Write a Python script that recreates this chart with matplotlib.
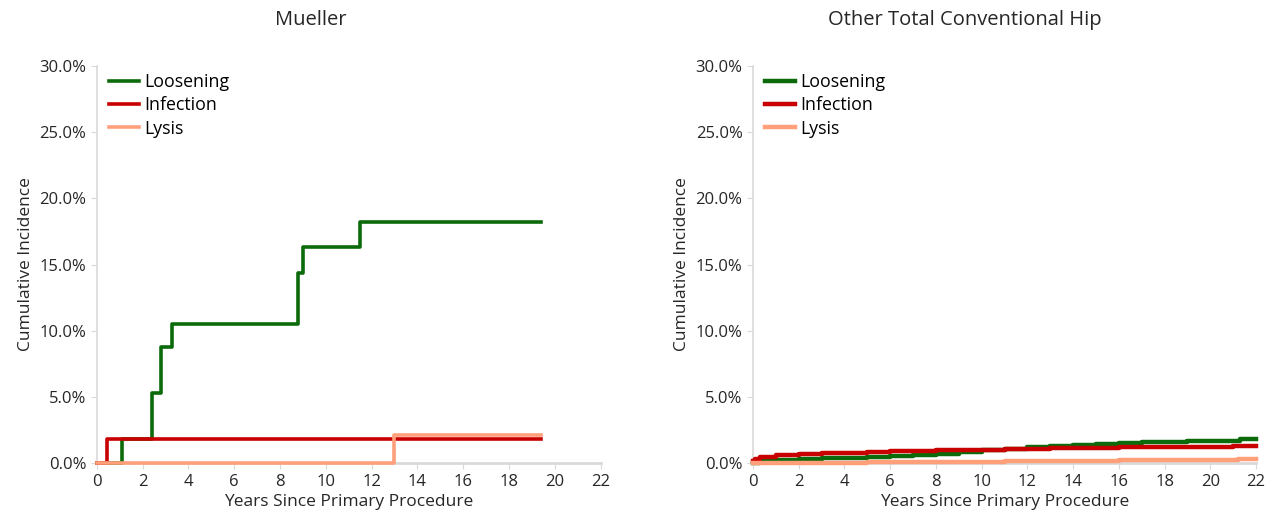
import matplotlib.pyplot as plt
from matplotlib.ticker import FuncFormatter, MultipleLocator

plt.rcParams["font.family"] = ["Open Sans", "DejaVu Sans"]

# Mueller: step change points (years, cumulative incidence %)
MUELLER_LOOSEN_X = [0.0, 1.1, 2.4, 2.4, 2.8, 3.3, 8.8, 8.8, 9.0, 11.5, 19.4]
MUELLER_LOOSEN_Y = [0.0, 1.8, 3.6, 5.3, 8.8, 10.5, 12.4, 14.4, 16.3, 18.2, 18.2]
MUELLER_INFECT_X = [0.0, 0.45, 19.4]
MUELLER_INFECT_Y = [0.0, 1.8, 1.8]
MUELLER_LYSIS_X = [0.0, 13.0, 19.4]
MUELLER_LYSIS_Y = [0.0, 2.1, 2.1]

# Other total conventional hip
OTHER_LOOSEN_X = [0.0, 0.3, 1, 2, 3, 4, 5, 6, 7, 8, 9, 10, 11, 12, 13, 14, 15, 16, 17, 18, 19, 20, 21.3, 22]
OTHER_LOOSEN_Y = [0.05, 0.15, 0.22, 0.3, 0.37, 0.43, 0.5, 0.57, 0.63, 0.7, 0.85, 1.0, 1.1, 1.2, 1.3, 1.38, 1.45, 1.52, 1.58, 1.63, 1.67, 1.7, 1.85, 1.85]
OTHER_INFECT_X = [0.0, 0.1, 0.3, 1, 2, 3, 4, 5, 6, 7, 8, 9, 10, 11, 12, 13, 14, 15, 16, 17, 18, 19, 20, 21, 22]
OTHER_INFECT_Y = [0.2, 0.35, 0.45, 0.6, 0.68, 0.75, 0.8, 0.85, 0.9, 0.93, 0.97, 1.0, 1.03, 1.07, 1.1, 1.13, 1.15, 1.17, 1.2, 1.22, 1.23, 1.25, 1.26, 1.27, 1.27]
OTHER_LYSIS_X = [0.0, 5.0, 11.0, 16.0, 21.2, 22]
OTHER_LYSIS_Y = [0.03, 0.06, 0.15, 0.25, 0.35, 0.35]

GREEN = "#0b6b0b"
RED = "#c80000"
SALMON = "#ffa07a"
SPINE = "#d9d9d9"
TEXT = "#262626"


def pct(v, _):
    return f"{v:.1f}%"


def style_axis(ax):
    ax.set_xlim(0, 22)
    ax.set_ylim(0, 30)
    ax.xaxis.set_major_locator(MultipleLocator(2))
    ax.yaxis.set_major_locator(MultipleLocator(5))
    ax.yaxis.set_major_formatter(FuncFormatter(pct))
    for side in ["top", "right"]:
        ax.spines[side].set_visible(False)
    ax.spines["left"].set_color(SPINE)
    ax.spines["bottom"].set_color(SPINE)
    ax.spines["bottom"].set_linewidth(2.0)
    ax.spines["left"].set_linewidth(1.2)
    ax.tick_params(colors=SPINE, labelcolor=TEXT, labelsize=12, length=4)
    ax.set_xlabel("Years Since Primary Procedure", fontsize=12.5, color=TEXT, labelpad=3)
    ax.set_ylabel("Cumulative Incidence", fontsize=12.5, color=TEXT)
    ax.legend(loc="upper left", frameon=False, fontsize=12.8, handlelength=1.7,
              handletextpad=0.3, labelspacing=0.3, borderaxespad=0.0,
              bbox_to_anchor=(0.01, 1.0))


def draw(ax, xs, ys, color, label, lw):
    ax.plot(xs, ys, drawstyle="steps-post", color=color, lw=lw, label=label,
            zorder=3, clip_on=False)


fig = plt.figure(figsize=(12.75, 5.27), dpi=100)
ax1 = fig.add_axes([0.076, 0.121, 0.395, 0.754])
ax2 = fig.add_axes([0.5906, 0.121, 0.3945, 0.754])

draw(ax1, MUELLER_LOOSEN_X, MUELLER_LOOSEN_Y, GREEN, "Loosening", 2.6)
draw(ax1, MUELLER_INFECT_X, MUELLER_INFECT_Y, RED, "Infection", 2.6)
draw(ax1, MUELLER_LYSIS_X, MUELLER_LYSIS_Y, SALMON, "Lysis", 2.6)
style_axis(ax1)

draw(ax2, OTHER_LOOSEN_X, OTHER_LOOSEN_Y, GREEN, "Loosening", 3.2)
draw(ax2, OTHER_INFECT_X, OTHER_INFECT_Y, RED, "Infection", 3.2)
draw(ax2, OTHER_LYSIS_X, OTHER_LYSIS_Y, SALMON, "Lysis", 3.2)
style_axis(ax2)

fig.text(311 / 1275, 1 - 20 / 527, "Mueller", ha="center", va="center", fontsize=14.5, color=TEXT)
fig.text(965 / 1275, 1 - 20 / 527, "Other Total Conventional Hip", ha="center", va="center",
         fontsize=14.5, color=TEXT)

fig.savefig("out.png", dpi=100)
